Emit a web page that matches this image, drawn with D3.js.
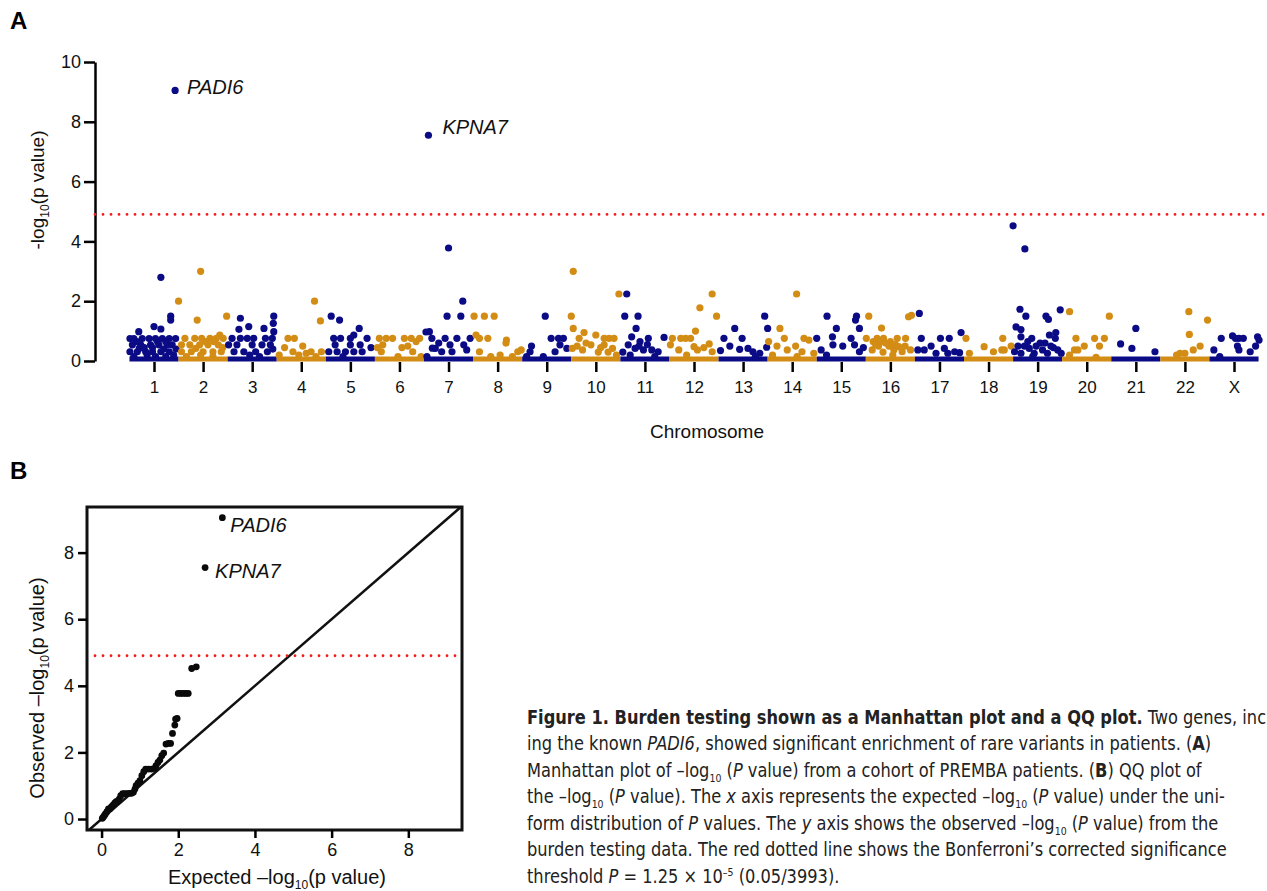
<!DOCTYPE html>
<html>
<head>
<meta charset="utf-8">
<script src="https://cdn.jsdelivr.net/npm/d3@7"></script>
<style>
  body { margin: 0; background: #fff; }
  svg { display: block; font-family: "Liberation Sans", Arial, sans-serif; }
  .caption { font-family: "DejaVu Sans Condensed", "Liberation Sans Narrow", "Roboto", sans-serif; font-stretch: condensed; font-size: 19px; fill: #222; }
</style>
</head>
<body>
<svg id="fig" width="1267" height="891"></svg>
<script>
// ---- data ----
chromosomes = ["1","2","3","4","5","6","7","8","9","10","11","12","13","14","15","16","17","18","19","20","21","22","X"]

// [position inside chromosome (-0.5..0.5), -log10 p]
chrPoints = [
  [[0.14,2.8],[0.34,1.5],[0.34,1.37],[0,1.15],[0.14,1.07],[-0.31,0.98],[-0.49,0.75],[-0.41,0.75],[-0.24,0.75],[-0.1,0.75],[0.03,0.75],[0.17,0.75],[0.31,0.75],[0.44,0.75],[-0.44,0.54],[-0.27,0.54],[-0.07,0.54],[0.1,0.54],[0.27,0.54],[0.37,0.54],[-0.49,0.31],[-0.34,0.31],[-0.17,0.31],[-0.03,0.31],[0.14,0.31],[0.31,0.31],[-0.41,0.15],[0.03,0.15],[0.24,0.15],[-0.2,0.45],[0.2,0.4],[-0.35,0.65],[0.07,0.65],[0.24,0.65],[-0.14,0.2],[0.4,0.2],[-0.03,0.45],[-0.3,0.42],[0.45,0.4]],
  [[-0.05,3.0],[-0.5,2.0],[-0.12,1.37],[0.48,1.5],[0.34,0.87],[-0.37,0.76],[-0.17,0.76],[-0.03,0.76],[0.14,0.76],[0.27,0.76],[0.41,0.76],[-0.44,0.54],[-0.27,0.54],[-0.07,0.54],[0.1,0.54],[0.31,0.54],[-0.44,0.31],[-0.24,0.31],[0,0.31],[0.2,0.31],[0.37,0.31],[-0.34,0.15],[0.2,0.15],[0.05,0.65],[0.22,0.65],[-0.15,0.42],[0.4,0.45],[-0.05,0.2]],
  [[-0.24,1.43],[-0.07,1.15],[0.24,1.09],[0.44,1.5],[0.43,1.26],[-0.27,1.06],[0.44,0.98],[-0.41,0.76],[-0.24,0.76],[-0.1,0.76],[0.03,0.76],[0.27,0.76],[0.41,0.76],[-0.48,0.54],[-0.31,0.54],[0,0.54],[0.2,0.54],[0.37,0.54],[-0.37,0.31],[-0.17,0.31],[0.07,0.31],[0.31,0.31],[0.15,0.15],[-0.05,0.2],[0.42,0.4]],
  [[0.27,2.0],[0.39,1.34],[-0.27,0.76],[-0.14,0.76],[0.03,0.5],[-0.34,0.45],[-0.17,0.31],[0.2,0.31],[0.41,0.31],[0.1,0.26],[-0.45,0.2],[-0.05,0.2],[0.3,0.15]],
  [[-0.39,1.5],[-0.22,1.37],[0.18,1.09],[0.07,0.87],[0.34,0.76],[-0.34,0.76],[-0.2,0.76],[0,0.76],[-0.31,0.54],[0,0.54],[0.2,0.54],[-0.44,0.31],[-0.27,0.31],[-0.1,0.31],[0.07,0.31],[0.24,0.31],[0.42,0.45],[-0.15,0.15]],
  [[-0.41,0.76],[-0.27,0.76],[-0.14,0.76],[0.1,0.76],[0.24,0.76],[0.41,0.76],[-0.34,0.54],[0.17,0.5],[0.34,0.65],[-0.37,0.31],[-0.03,0.15],[0.27,0.31],[0.44,0.15],[-0.45,0.45],[0.05,0.45]],
  [[0,3.78],[0.29,2.0],[-0.03,1.5],[0.25,1.5],[-0.39,0.98],[0.44,0.76],[-0.34,0.76],[-0.07,0.76],[0.17,0.76],[-0.27,0.42],[0.03,0.54],[0.31,0.54],[0.07,0.31],[-0.44,0.15],[-0.14,0.31],[0.37,0.37],[-0.2,0.6],[-0.46,0.97],[-0.33,0.43]],
  [[-0.48,1.5],[-0.27,1.5],[-0.07,1.5],[-0.44,0.87],[-0.37,0.76],[-0.2,0.76],[0.18,0.7],[-0.37,0.31],[-0.14,0.15],[0.17,0.6],[0.41,0.31],[0.48,0.37],[0.05,0.2],[0.3,0.15]],
  [[-0.03,1.5],[0.09,0.76],[-0.31,0.5],[-0.34,0.31],[-0.07,0.15],[0.24,0.76],[0.34,0.76],[0.27,0.54],[0.41,0.42],[0.17,0.31],[-0.41,0.15]],
  [[-0.46,3.0],[-0.5,1.5],[-0.46,1.09],[-0.24,0.95],[0,0.87],[0.17,0.76],[0.27,0.76],[0.37,0.76],[-0.34,0.76],[-0.48,0.42],[-0.1,0.54],[-0.27,0.37],[0.17,0.54],[0.34,0.42],[0.47,2.24],[-0.2,0.6],[0.05,0.3],[0.42,0.2],[-0.38,0.5],[0.1,0.45],[0.25,0.3]],
  [[-0.37,2.24],[-0.41,1.5],[-0.14,1.5],[-0.18,1.09],[-0.27,0.81],[-0.1,0.65],[0.07,0.76],[0.39,0.79],[-0.34,0.54],[-0.2,0.42],[-0.03,0.37],[0.14,0.37],[0.27,0.31],[-0.45,0.3],[0.2,0.15],[-0.3,0.2],[-0.12,0.5],[0.05,0.55]],
  [[0.37,2.24],[0.12,1.78],[0.46,1.5],[0.03,1.0],[-0.44,0.76],[-0.27,0.76],[-0.17,0.76],[-0.07,0.76],[-0.48,0.54],[-0.31,0.37],[0,0.48],[0.07,0.37],[0.31,0.57],[0.37,0.31],[0.2,0.45],[-0.15,0.2]],
  [[0.44,1.5],[0.5,1.09],[-0.17,1.09],[-0.39,0.76],[-0.27,0.5],[-0.02,0.76],[-0.07,0.39],[0.1,0.42],[0.2,0.31],[-0.46,0.35],[0.48,0.46],[0.34,0.26],[0.25,0.15]],
  [[0.09,2.24],[-0.25,1.09],[-0.48,0.65],[-0.16,0.76],[0.24,0.76],[0.34,0.7],[-0.31,0.5],[0.07,0.5],[0.2,0.31],[-0.1,0.37],[0.44,0.26],[-0.4,0.2],[0.1,0.15]],
  [[-0.29,1.5],[0.31,1.5],[0.29,1.37],[0.37,1.09],[-0.1,1.09],[-0.5,0.76],[-0.18,0.81],[0.2,0.76],[-0.41,0.37],[-0.17,0.54],[0.03,0.5],[0.27,0.54],[0.37,0.31],[0.45,0.45],[-0.3,0.2]],
  [[-0.44,1.5],[0.37,1.48],[0.43,1.53],[-0.18,1.1],[-0.27,0.76],[-0.14,0.76],[0.14,0.76],[0.31,0.76],[-0.35,0.65],[-0.2,0.65],[-0.24,0.5],[-0.03,0.5],[0.07,0.37],[0.17,0.48],[-0.37,0.37],[0.24,0.31],[0.41,0.37],[-0.49,0.76],[0,0.65],[-0.1,0.6],[0.05,0.2],[-0.3,0.55],[0.1,0.55],[0.3,0.5],[-0.15,0.3]],
  [[-0.41,1.59],[0.44,0.95],[-0.37,0.76],[0.02,0.76],[0.2,0.76],[-0.17,0.5],[-0.44,0.37],[-0.31,0.37],[0.1,0.42],[0.31,0.31],[0.41,0.28],[-0.07,0.26],[0.17,0.26]],
  [[-0.46,0.76],[-0.09,0.48],[0.29,0.76],[0.1,0.31],[0.27,0.37],[0.32,0.37],[0.46,0.5],[-0.39,0.26]],
  [[-0.5,4.52],[-0.26,3.75],[-0.36,1.73],[-0.24,1.5],[0.17,1.5],[0.22,1.39],[0.46,1.71],[-0.44,1.14],[-0.34,1.05],[-0.34,0.81],[-0.12,0.76],[0.24,0.87],[0.37,0.95],[0.36,0.76],[-0.27,0.5],[-0.17,0.42],[-0.03,0.5],[0.1,0.37],[0.27,0.5],[0.41,0.37],[-0.47,0.31],[-0.34,0.26],[-0.07,0.26],[0.2,0.26],[0.48,0.26],[0.05,0.6],[-0.2,0.65],[-0.4,0.5],[0.15,0.6],[0.32,0.45],[-0.1,0.15]],
  [[-0.35,1.65],[0.46,1.5],[-0.22,0.76],[0.16,0.76],[0.36,0.76],[-0.05,0.5],[-0.25,0.37],[-0.18,0.37],[0.26,0.5],[-0.35,0.2],[0.19,0.12]],
  [[0,1.09],[-0.31,0.57],[-0.08,0.42],[0.39,0.31]],
  [[0.08,1.65],[0.46,1.37],[0.09,0.89],[0.31,0.5],[0.17,0.37],[0,0.26],[-0.1,0.26],[-0.17,0.2]],
  [[-0.26,0.76],[-0.03,0.84],[0.03,0.76],[0.1,0.76],[0.19,0.76],[0.07,0.5],[0.1,0.37],[-0.41,0.37],[0.33,0.31],[0.48,0.81],[0.51,0.7],[0.44,0.5],[-0.29,0.15]]
]

hitGenes = ["PADI6", "KPNA7"]
hitChr = [1, 7]
hitPos = [0.43, -0.41]
hitValue = [9.05, 7.55]

threshold = 4.903   // -log10(1.25e-5)

yTicksA = [0, 2, 4, 6, 8, 10]
qqTicks = [0, 2, 4, 6, 8]

qqExpected = [3.15,2.7,2.47,2.35,2.26,2.2,2.13,2.07,2.0,1.97,1.93,1.91,1.85,1.8,1.74,1.68,1.62,1.57,1.52,1.47,1.42,1.38,1.3,1.22,1.15,1.1,1.05,1.0,0.95,0.9,0.87,0.83,0.78,0.72,0.66,0.6,0.55,0.5,0.46,0.42,0.38,0.34,0.3,0.26,0.22,0.18,0.14,0.1,0.07,0.04,0.02]
qqObserved = [9.05,7.55,4.57,4.52,3.77,3.77,3.77,3.77,3.77,3.02,3.0,2.82,2.57,2.27,2.27,2.25,1.98,1.9,1.77,1.7,1.6,1.52,1.5,1.5,1.5,1.42,1.3,1.15,1.08,1.0,0.9,0.8,0.77,0.77,0.76,0.76,0.76,0.7,0.6,0.54,0.52,0.48,0.42,0.37,0.31,0.3,0.22,0.15,0.1,0.05,0.02]

captionLines = [
  [["Figure 1. Burden testing shown as a Manhattan plot and a QQ plot.","b"],[" Two genes, includ-",""]],
  [["ing the known ",""],["PADI6","i"],[", showed significant enrichment of rare variants in patients. (",""],["A","b"],[")",""]],
  [["Manhattan plot of \u2013log",""],["10","sub"],[" (",""],["P","i"],[" value) from a cohort of PREMBA patients. (",""],["B","b"],[") QQ plot of",""]],
  [["the \u2013log",""],["10","sub"],[" (",""],["P","i"],[" value). The ",""],["x","i"],[" axis represents the expected \u2013log",""],["10","sub"],[" (",""],["P","i"],[" value) under the uni-",""]],
  [["form distribution of ",""],["P","i"],[" values. The ",""],["y","i"],[" axis shows the observed \u2013log",""],["10","sub"],[" (",""],["P","i"],[" value) from the",""]],
  [["burden testing data. The red dotted line shows the Bonferroni\u2019s corrected significance",""]],
  [["threshold ",""],["P","i"],[" = 1.25 \u00d7 10",""],["\u20135","sup"],[" (0.05/3993).",""]]
]

navy = "#0b0b86"
gold = "#d38c14"

svg = d3.select("#fig")

// ---------- panel A : manhattan ----------
svg.append("text").attr("x", 10).attr("y", 29).text("A")
  .attr("font-size", 24).attr("font-weight", "bold")

xA = d3.scaleLinear().domain([1, 23]).range([154, 1234])
yA = d3.scaleLinear().domain([0, 10]).range([361, 62])

yAxisA = svg.append("g").attr("transform", "translate(95,0)")
  .call(d3.axisLeft(yA).tickValues(yTicksA).tickSize(11).tickSizeOuter(0).tickPadding(3))
yAxisA.select(".domain").attr("stroke-width", 2.5)
yAxisA.selectAll(".tick line").attr("stroke-width", 2.5)
yAxisA.selectAll(".tick text").attr("font-size", 18).attr("fill", "#111").attr("font-family", "Liberation Sans, Arial")

// baseline band: the dense row of genes sitting at ~0
svg.append("g").selectAll("line")
  .data(chromosomes).enter().append("line")
  .attr("x1", (d, i) => xA(i + 1 - 0.5))
  .attr("x2", (d, i) => xA(i + 1 + 0.5))
  .attr("y1", yA(0.07)).attr("y2", yA(0.07))
  .attr("stroke", (d, i) => i % 2 ? gold : navy)
  .attr("stroke-width", 5)

pts = []
chrPoints.forEach(function(arr, i) {
  arr.forEach(function(p) { pts.push({ chr: i + 1, pos: p[0], v: p[1] }) })
})
hitGenes.forEach(function(g, k) { pts.push({ chr: hitChr[k], pos: hitPos[k], v: hitValue[k] }) })

svg.append("g").selectAll("circle")
  .data(pts).enter().append("circle")
  .attr("cx", d => xA(d.chr + d.pos))
  .attr("cy", d => yA(d.v))
  .attr("r", 3.6)
  .attr("fill", d => d.chr % 2 ? navy : gold)

// chromosome ticks
xAxisA = svg.append("g").attr("transform", "translate(0,362)")
  .call(d3.axisBottom(xA).tickValues(d3.range(1, 24)).tickSize(10).tickPadding(9)
    .tickFormat(d => chromosomes[d - 1]))
xAxisA.select(".domain").remove()
xAxisA.selectAll(".tick line").attr("stroke-width", 2.5)
xAxisA.selectAll(".tick text").attr("font-size", 17).attr("fill", "#111").attr("font-family", "Liberation Sans, Arial")

svg.append("line")
  .attr("x1", 95).attr("x2", 1267)
  .attr("y1", yA(threshold)).attr("y2", yA(threshold))
  .attr("stroke", "#f21c1c").attr("stroke-width", 2.8)
  .attr("stroke-linecap", "round").attr("stroke-dasharray", "0 8")

hitLabelDx = [12, 14]
hitLabelDy = [-3, -8]
hitGenes.forEach(function(g, k) {
  svg.append("text")
    .attr("x", xA(hitChr[k] + hitPos[k]) + hitLabelDx[k])
    .attr("y", yA(hitValue[k]) + hitLabelDy[k])
    .attr("dy", "0.35em")
    .attr("font-size", 20).attr("font-style", "italic").attr("fill", "#111")
    .text(g)
})

svg.append("text").attr("x", 707).attr("y", 438).attr("text-anchor", "middle")
  .attr("font-size", 19).attr("fill", "#111").text("Chromosome")

tA = svg.append("text").attr("transform", "translate(44,190) rotate(-90)")
  .attr("text-anchor", "middle").attr("font-size", 19).attr("fill", "#111")
tA.append("tspan").text("-log")
tA.append("tspan").attr("font-size", 12).attr("dy", 5).text("10")
tA.append("tspan").attr("dy", -5).text("(p value)")

// ---------- panel B : QQ ----------
svg.append("text").attr("x", 10).attr("y", 479).text("B")
  .attr("font-size", 24).attr("font-weight", "bold")

xB = d3.scaleLinear().domain([-0.38, 9.4]).range([87, 462])
yB = d3.scaleLinear().domain([-0.33, 9.37]).range([830, 507])

svg.append("clipPath").attr("id", "qqclip").append("rect")
  .attr("x", 87).attr("y", 507).attr("width", 375).attr("height", 323)

svg.append("line").attr("clip-path", "url(#qqclip)")
  .attr("x1", xB(-1)).attr("y1", yB(-1)).attr("x2", xB(10)).attr("y2", yB(10))
  .attr("stroke", "#111").attr("stroke-width", 2.6)

svg.append("line")
  .attr("x1", 95).attr("x2", 461)
  .attr("y1", yB(threshold)).attr("y2", yB(threshold))
  .attr("stroke", "#f21c1c").attr("stroke-width", 2.8)
  .attr("stroke-linecap", "round").attr("stroke-dasharray", "0 8")

svg.append("g").selectAll("circle")
  .data(qqExpected).enter().append("circle")
  .attr("cx", d => xB(d))
  .attr("cy", (d, i) => yB(qqObserved[i]))
  .attr("r", 3.4).attr("fill", "#0a0a0a")

svg.append("rect").attr("x", 87).attr("y", 507).attr("width", 375).attr("height", 323)
  .attr("fill", "none").attr("stroke", "#111").attr("stroke-width", 3)

yAxisB = svg.append("g").attr("transform", "translate(87,0)")
  .call(d3.axisLeft(yB).tickValues(qqTicks).tickSize(9).tickPadding(4))
xAxisB = svg.append("g").attr("transform", "translate(0,830)")
  .call(d3.axisBottom(xB).tickValues(qqTicks).tickSize(8).tickPadding(5))
;[yAxisB, xAxisB].forEach(function(ax) {
  ax.select(".domain").remove()
  ax.selectAll(".tick line").attr("stroke-width", 2.5)
  ax.selectAll(".tick text").attr("font-size", 18).attr("fill", "#111").attr("font-family", "Liberation Sans, Arial")
})

qqLabelDx = [8, 10]
qqLabelDy = [7, 3]
hitGenes.forEach(function(g, k) {
  svg.append("text")
    .attr("x", xB(qqExpected[k]) + qqLabelDx[k])
    .attr("y", yB(qqObserved[k]) + qqLabelDy[k])
    .attr("dy", "0.35em")
    .attr("font-size", 20).attr("font-style", "italic").attr("fill", "#111")
    .text(g)
})

tBy = svg.append("text").attr("transform", "translate(44,688) rotate(-90)")
  .attr("text-anchor", "middle").attr("font-size", 20).attr("fill", "#111")
tBy.append("tspan").text("Observed \u2013log")
tBy.append("tspan").attr("font-size", 12).attr("dy", 5).text("10")
tBy.append("tspan").attr("dy", -5).text("(p value)")

tBx = svg.append("text").attr("x", 277).attr("y", 884)
  .attr("text-anchor", "middle").attr("font-size", 20).attr("fill", "#111")
tBx.append("tspan").text("Expected \u2013log")
tBx.append("tspan").attr("font-size", 12).attr("dy", 5).text("10")
tBx.append("tspan").attr("dy", -5).text("(p value)")

// ---------- caption (runs off the right edge, as in the original page) ----------
cap = svg.append("g").attr("class", "caption").attr("transform", "translate(527,0) scale(0.95,1)")
captionLines.forEach(function(line, li) {
  t = cap.append("text").attr("x", 0).attr("y", 724 + li * 26.5)
  shift = 0
  line.forEach(function(seg) {
    s = t.append("tspan").text(seg[0])
    target = seg[1] === "sub" ? 5 : seg[1] === "sup" ? -7 : 0
    if (target !== shift) { s.attr("dy", target - shift); shift = target }
    if (seg[1] === "b") s.attr("font-weight", "bold")
    if (seg[1] === "i") s.attr("font-style", "italic")
    if (seg[1] === "sub" || seg[1] === "sup") s.attr("font-size", 11)
  })
})
</script>
</body>
</html>
